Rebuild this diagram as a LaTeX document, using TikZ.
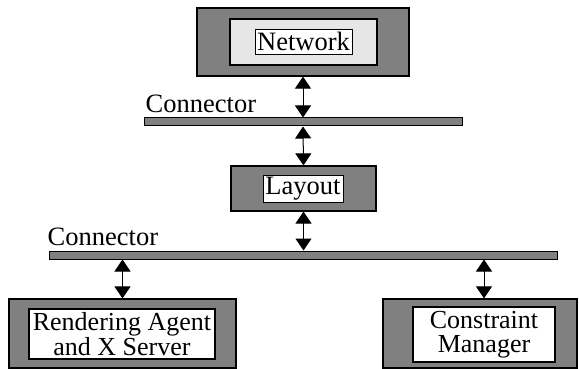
\documentclass[tikz,border=0pt]{standalone}
\usepackage{fontspec}
\setmainfont{Liberation Serif}
\usepackage{tikz}
\usetikzlibrary{positioning, arrows.meta}
\definecolor{frameGray}{RGB}{128, 128, 128}
\definecolor{paneGray}{RGB}{230, 230, 230}
\tikzset{
    outer_box/.style={
        draw=black,
        line width=1.2pt,
        fill=frameGray,
        inner sep=0pt
    },
    inner_box/.style={
        draw=black,
        line width=1.2pt,
        fill=white,
        inner sep=0pt,
        align=center,
        font=\fontsize{26}{24.5}\selectfont
    },
    name_box/.style={
        draw=black,
        line width=0.8pt,
        fill=white,
        inner sep=0pt,
        font=\fontsize{26.5}{24.5}\selectfont
    },
    bus_bar/.style={
        draw=black,
        line width=1pt,
        fill=frameGray,
        inner sep=0pt,
        minimum height=8pt
    },
    bus_label/.style={
        inner sep=0pt,
        font=\fontsize{26.5}{24.5}\selectfont
    },
    link_edge/.style={
        {Triangle[width=16pt,length=12pt]}-{Triangle[width=16pt,length=12pt]},
        line width=1pt,
        draw=black
    }
}
\begin{document}
\begin{tikzpicture}[x=1pt, y=-1pt]
    \useasboundingbox (0,0) rectangle (579,369);

    % network
    \node[outer_box, minimum width=212pt, minimum height=68pt] (net) at (303,42) {};
    \node[inner_box, fill=paneGray, minimum width=147pt, minimum height=46pt] (net_pane) at (303.5,42) {};
    \node[name_box, minimum width=97pt, minimum height=25pt] (net_name) at (303.5,41.5) {Network};

    % upper connector
    \node[bus_bar, minimum width=318pt] (bus1) at (303,122) {};
    \node[bus_label, above right=5pt and 2pt of bus1.north west] (bus1_lbl) {Connector};

    % layout
    \node[outer_box, minimum width=145pt, minimum height=45pt] (lay) at (303.5,188.5) {};
    \node[name_box, minimum width=80pt, minimum height=27pt] (lay_name) at (303,188.5) {Layout};

    % lower connector
    \node[bus_bar, minimum width=508pt] (bus2) at (303,255) {};
    \node[bus_label, above right=5pt and -1pt of bus2.north west] (bus2_lbl) {Connector};

    % clients
    \node[outer_box, minimum width=227pt, minimum height=69pt] (rend) at (122.5,333.5) {};
    \node[inner_box, minimum width=186pt, minimum height=50pt] (rend_pane) at (122,334) {Rendering Agent\\and X Server};
    \node[outer_box, minimum width=194pt, minimum height=69pt] (cons) at (480,333.5) {};
    \node[inner_box, minimum width=142pt, minimum height=55pt] (cons_pane) at (484,334.5) {Constraint\\Manager};

    \draw[link_edge] (net.south) -- (bus1.north);
    \draw[link_edge] (bus1.south) -- (lay.north);
    \draw[link_edge] (lay.south) -- (lay.south |- bus2.north);
    \draw[link_edge] (rend.north |- bus2.south) -- (rend.north);
    \draw[link_edge] (cons_pane.north |- bus2.south) -- (cons_pane.north |- cons.north);
\end{tikzpicture}
\end{document}
